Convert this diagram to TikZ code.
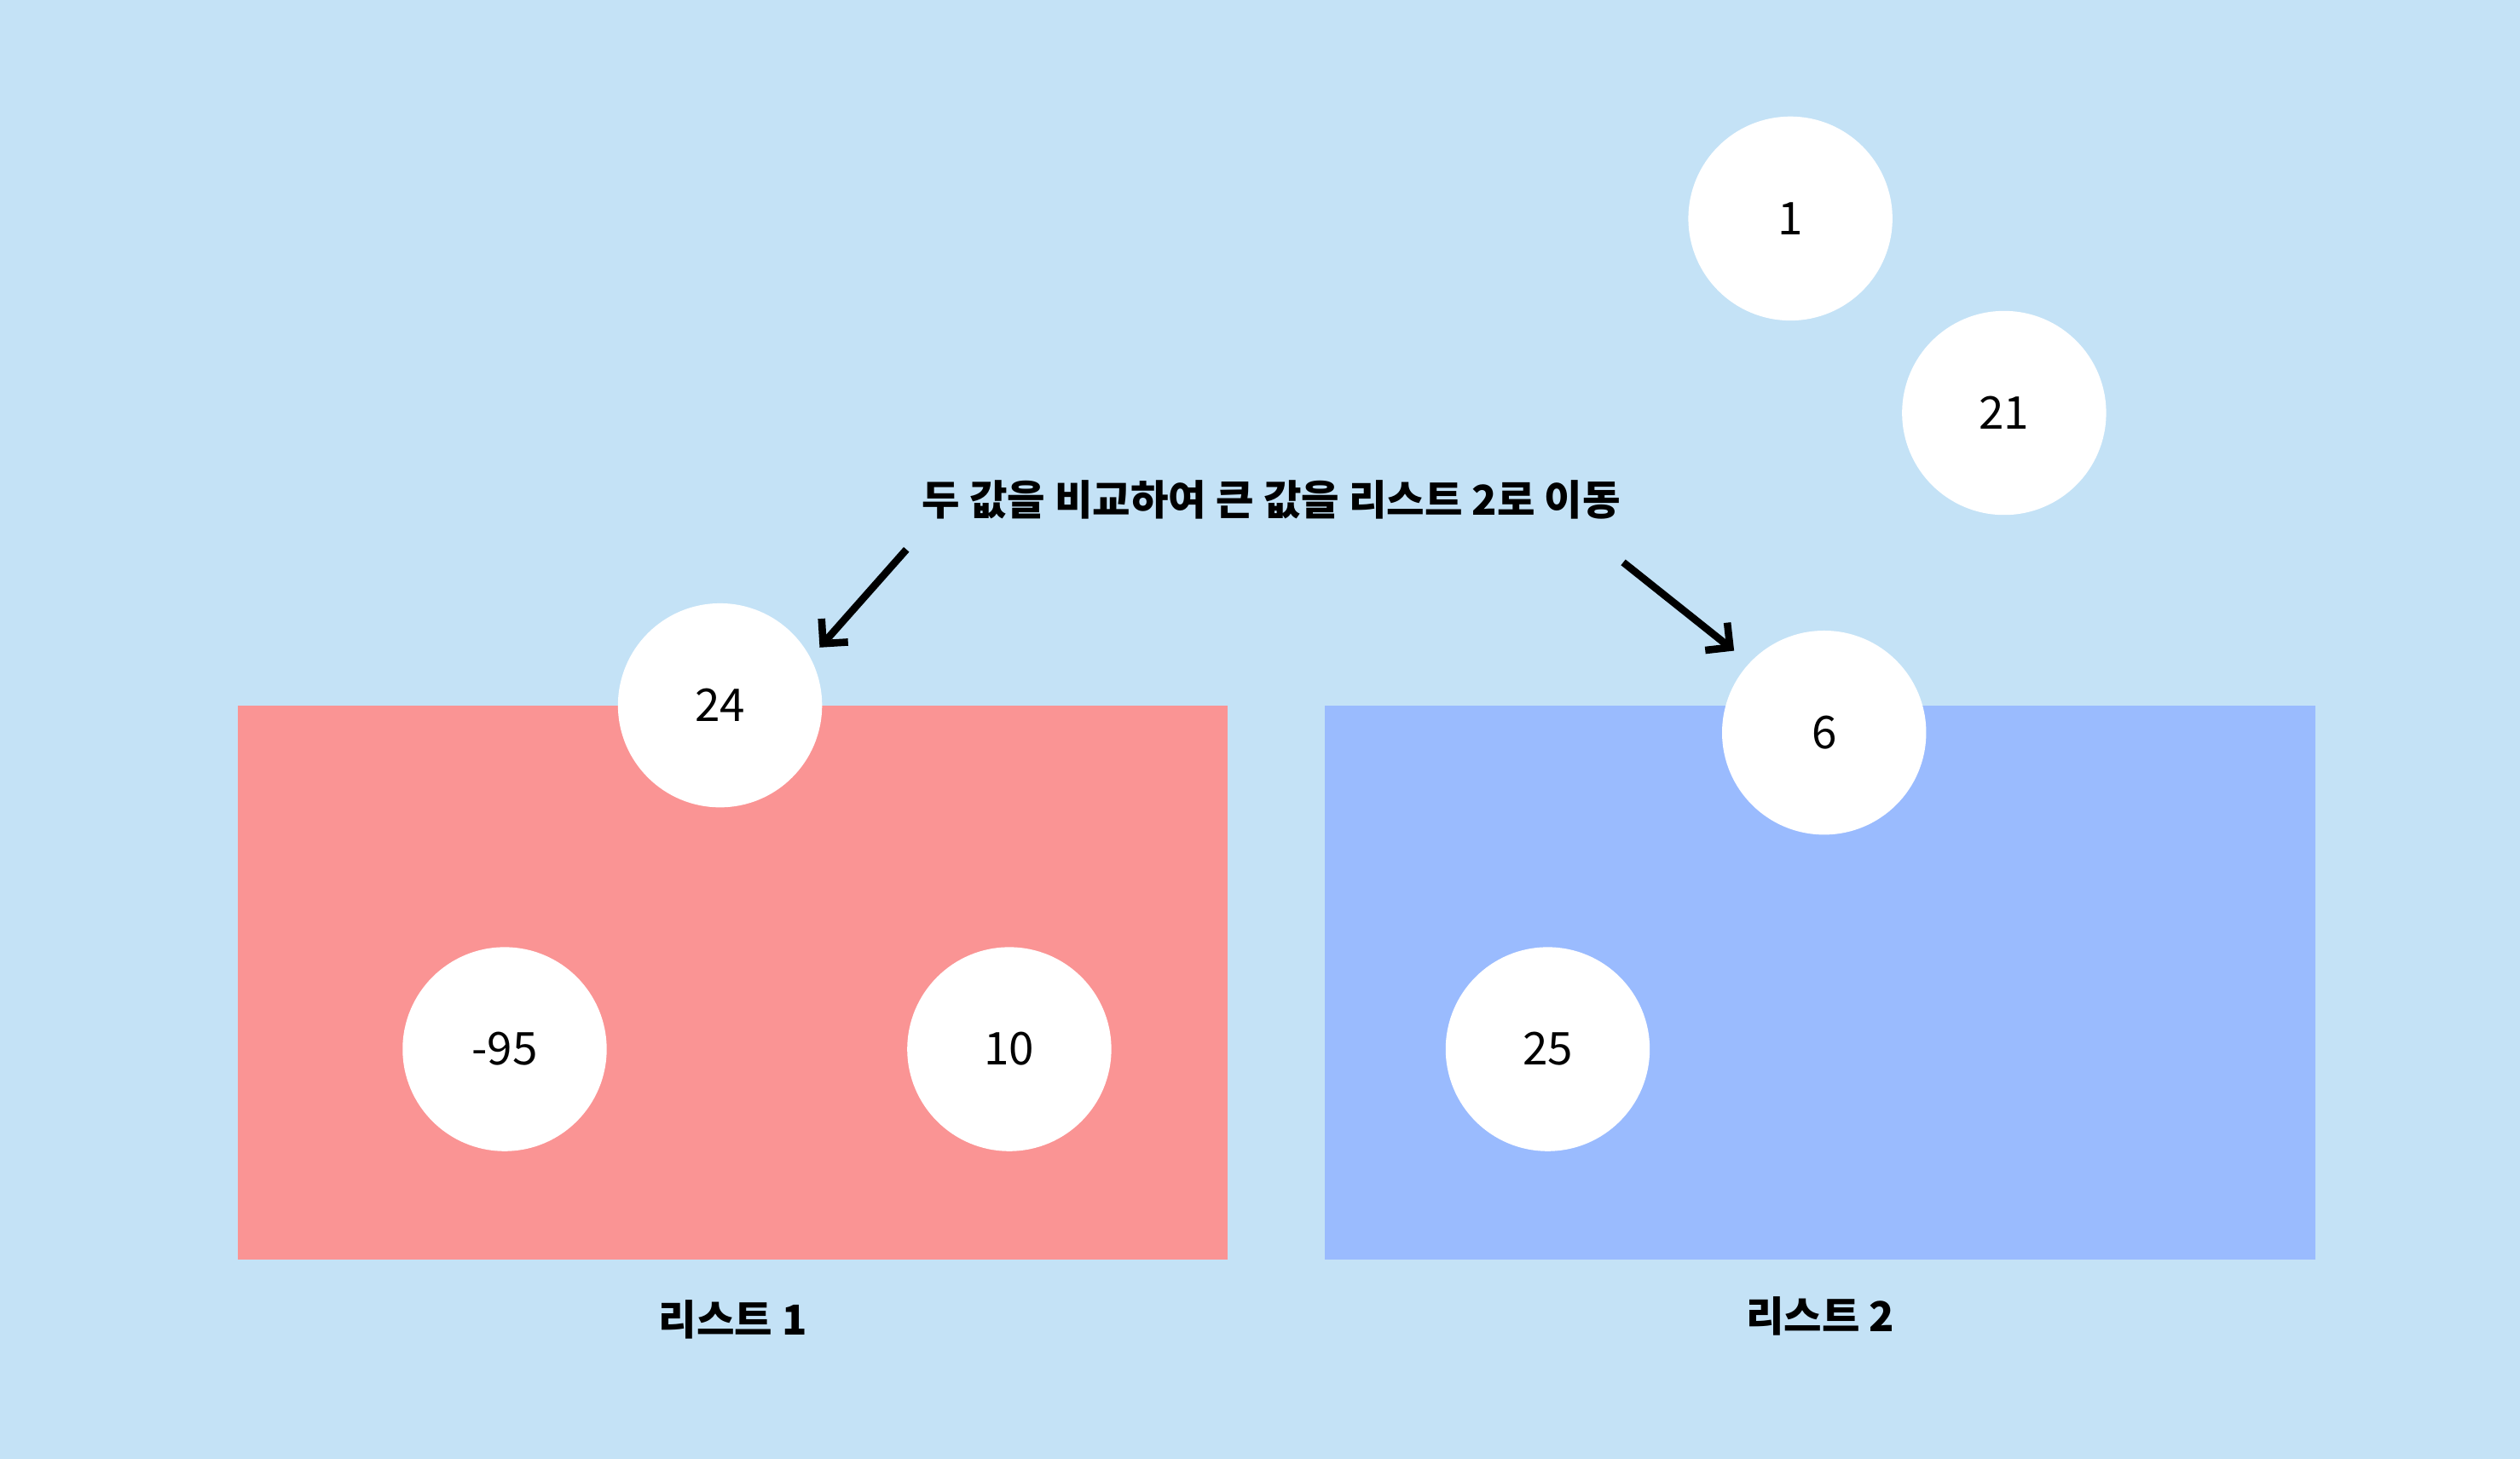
\documentclass[tikz,border=0pt]{standalone}
\usepackage{fontspec}
\setmainfont{Noto Sans CJK KR}
\usepackage{tikz}
\usetikzlibrary{positioning, arrows.meta}
\definecolor{bgblue}{HTML}{C4E2F6}
\definecolor{listred}{HTML}{FA9494}
\definecolor{listblue}{HTML}{9ABBFE}
\tikzstyle{ball} = [circle, minimum size=1.27cm, inner sep=0pt, fill=white, font=\fontsize{8}{9}\selectfont]
\tikzstyle{list} = [rectangle, minimum width=6.16cm, minimum height=3.45cm, inner sep=0pt]
\tikzstyle{caption} = [font=\fontsize{7.3}{9}\selectfont\bfseries]
\tikzstyle{arrow} = [line width=1.3pt,-{Straight Barb[length=1.1mm,width=2.2mm]}]

\begin{document}
\begin{tikzpicture}
	\fill[bgblue] (0,0) rectangle (15.68,-9.08);
	\useasboundingbox (0,0) rectangle (15.68,-9.08);

	% two lists
	\node (l1) [list, fill=listred] at (4.56,-6.115) {};
	\node (l2) [list, fill=listblue] at (11.325,-6.115) {};
	\node (t1) [caption, below=0.12cm of l1] {리스트 1};
	\node (t2) [caption, below=0.1cm of l2] {리스트 2};

	% values
	\node (b1) [ball] at (11.14,-1.36) {1};
	\node (b21) [ball] at (12.47,-2.57) {21};
	\node (b24) [ball] at (4.48,-4.39) {24};
	\node (b6) [ball] at (11.35,-4.56) {6};
	\node (bm95) [ball] at (3.14,-6.53) {-95};
	\node (b10) [ball] at (6.28,-6.53) {10};
	\node (b25) [ball] at (9.63,-6.53) {25};

	\node (title) [caption] at (7.91,-3.11) {두 값을 비교하여 큰 값을 리스트 2로 이동};

	\coordinate (s1) at (5.64,-3.42);
	\coordinate (e1) at (5.10,-4.03);
	\coordinate (s2) at (10.10,-3.50);
	\coordinate (e2) at (10.79,-4.05);
	\draw [arrow] (s1) -- (e1);
	\draw [arrow] (s2) -- (e2);
\end{tikzpicture}
\end{document}
